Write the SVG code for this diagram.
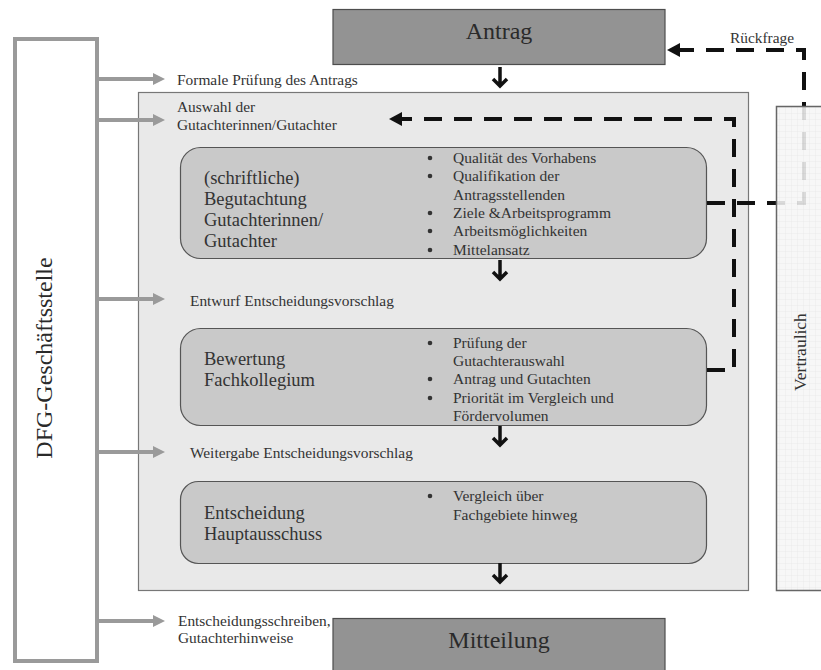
<svg xmlns="http://www.w3.org/2000/svg" width="821" height="670" viewBox="0 0 821 670">
<style>
text{font-family:"Liberation Serif","Times New Roman",serif;fill:#333}
.side{font-size:15.4px}
.title{font-size:18.5px}
.bul{font-size:15.5px}
.big{font-size:24px;fill:#2a2a2a}
.gray{stroke:#9a9a9a;stroke-width:4;fill:none}
.dash{stroke:#111;stroke-width:4;fill:none;stroke-dasharray:18 12}
.inner{fill:#c9c9c9;stroke:#555;stroke-width:1.2}
.dark{fill:#939393;stroke:#4d4d4d;stroke-width:1.2}
.down{stroke:#111;stroke-width:3.5;fill:none}
.dot{fill:#333}
</style>
<defs>
<marker id="gh" viewBox="0 0 12 12" refX="0" refY="6" markerWidth="12" markerHeight="12" markerUnits="userSpaceOnUse" orient="auto">
<path d="M0,0 L12,6 L0,12 Z" fill="#9a9a9a"/>
</marker>
<marker id="bh" viewBox="0 0 13 14" refX="0" refY="7" markerWidth="13" markerHeight="14" markerUnits="userSpaceOnUse" orient="auto">
<path d="M0,0 L13,7 L0,14 Z" fill="#111"/>
</marker>
<pattern id="grid" width="6" height="6" patternUnits="userSpaceOnUse">
<rect width="6" height="6" fill="#f6f6f6"/>
<path d="M6,0 V6 M0,6 H6" stroke="#e2e2e2" stroke-width="0.8" fill="none"/>
</pattern>
<g id="darr"><path d="M0,-10 V9 M-7,2 L0,9 L7,2"/></g>
</defs>

<g id="main">
<rect x="138.5" y="92.5" width="610" height="498" fill="#e9e9e9" stroke="#777" stroke-width="1.2"/>
</g>

<g id="dfg">
<rect x="15" y="39" width="82" height="622" fill="#fff" stroke="#9a9a9a" stroke-width="4"/>
<text class="big" transform="translate(52,358) rotate(-90)" text-anchor="middle">DFG-Geschäftsstelle</text>
</g>

<g id="antrag">
<rect x="333" y="9.5" width="332" height="55" class="dark"/>
<text class="big" x="499" y="39" text-anchor="middle">Antrag</text>
</g>

<g id="mitteilung">
<rect x="333" y="618.5" width="332" height="60" class="dark"/>
<text class="big" x="499" y="648" text-anchor="middle">Mitteilung</text>
</g>

<g id="box1">
<rect x="180.5" y="147.5" width="526" height="111" rx="20" class="inner"/>
<text class="title" x="204" y="184">(schriftliche)</text>
<text class="title" x="204" y="205">Begutachtung</text>
<text class="title" x="204" y="226">Gutachterinnen/</text>
<text class="title" x="204" y="247">Gutachter</text>
<g class="dot">
<circle cx="430" cy="158" r="2.3"/><circle cx="430" cy="176" r="2.3"/><circle cx="430" cy="213" r="2.3"/><circle cx="430" cy="231" r="2.3"/><circle cx="430" cy="250" r="2.3"/>
</g>
<g class="bul">
<text x="453" y="163">Qualität des Vorhabens</text>
<text x="453" y="181">Qualifikation der</text>
<text x="453" y="200">Antragsstellenden</text>
<text x="453" y="218">Ziele &amp;Arbeitsprogramm</text>
<text x="453" y="236">Arbeitsmöglichkeiten</text>
<text x="453" y="255">Mittelansatz</text>
</g>
</g>

<g id="box2">
<rect x="180.5" y="328.5" width="526" height="97" rx="20" class="inner"/>
<text class="title" x="204" y="365">Bewertung</text>
<text class="title" x="204" y="386">Fachkollegium</text>
<g class="dot">
<circle cx="430" cy="343" r="2.3"/><circle cx="430" cy="379" r="2.3"/><circle cx="430" cy="398" r="2.3"/>
</g>
<g class="bul">
<text x="453" y="348">Prüfung der</text>
<text x="453" y="366">Gutachterauswahl</text>
<text x="453" y="384">Antrag und Gutachten</text>
<text x="453" y="403">Priorität im Vergleich und</text>
<text x="453" y="421">Fördervolumen</text>
</g>
</g>

<g id="box3">
<rect x="180.5" y="481.5" width="526" height="82" rx="18" class="inner"/>
<text class="title" x="204" y="519">Entscheidung</text>
<text class="title" x="204" y="540">Hauptausschuss</text>
<circle class="dot" cx="430" cy="496" r="2.3"/>
<g class="bul">
<text x="453" y="501">Vergleich über</text>
<text x="453" y="520">Fachgebiete hinweg</text>
</g>
</g>

<g id="labels" class="side">
<text x="177" y="85">Formale Prüfung des Antrags</text>
<text x="177" y="112">Auswahl der</text>
<text x="177" y="130">Gutachterinnen/Gutachter</text>
<text x="190" y="306">Entwurf Entscheidungsvorschlag</text>
<text x="190" y="458">Weitergabe Entscheidungsvorschlag</text>
<text x="178" y="626">Entscheidungsschreiben,</text>
<text x="178" y="643">Gutachterhinweise</text>
<text x="730" y="43">Rückfrage</text>
</g>

<g id="connectors">
<path class="gray" d="M97,79 H153" marker-end="url(#gh)"/>
<path class="gray" d="M97,120 H153" marker-end="url(#gh)"/>
<path class="gray" d="M97,299 H153" marker-end="url(#gh)"/>
<path class="gray" d="M97,452 H153" marker-end="url(#gh)"/>
<path class="gray" d="M97,621 H153" marker-end="url(#gh)"/>
<use href="#darr" class="down" x="500" y="77"/>
<use href="#darr" class="down" x="500" y="270"/>
<use href="#darr" class="down" x="500" y="436"/>
<use href="#darr" class="down" x="500" y="573"/>
<path class="dash" d="M707,370 H734 V119 H402" marker-end="url(#bh)"/>
<path class="dash" d="M707,203 H804 V50 H680" marker-end="url(#bh)"/>
</g>

<g id="vertraulich">
<rect x="776.5" y="106.5" width="50" height="484" fill="url(#grid)" fill-opacity="0.88" stroke="#666" stroke-width="1.5"/>
<text transform="translate(806,352) rotate(-90)" text-anchor="middle" style="font-size:17.5px">Vertraulich</text>
</g>
</svg>
